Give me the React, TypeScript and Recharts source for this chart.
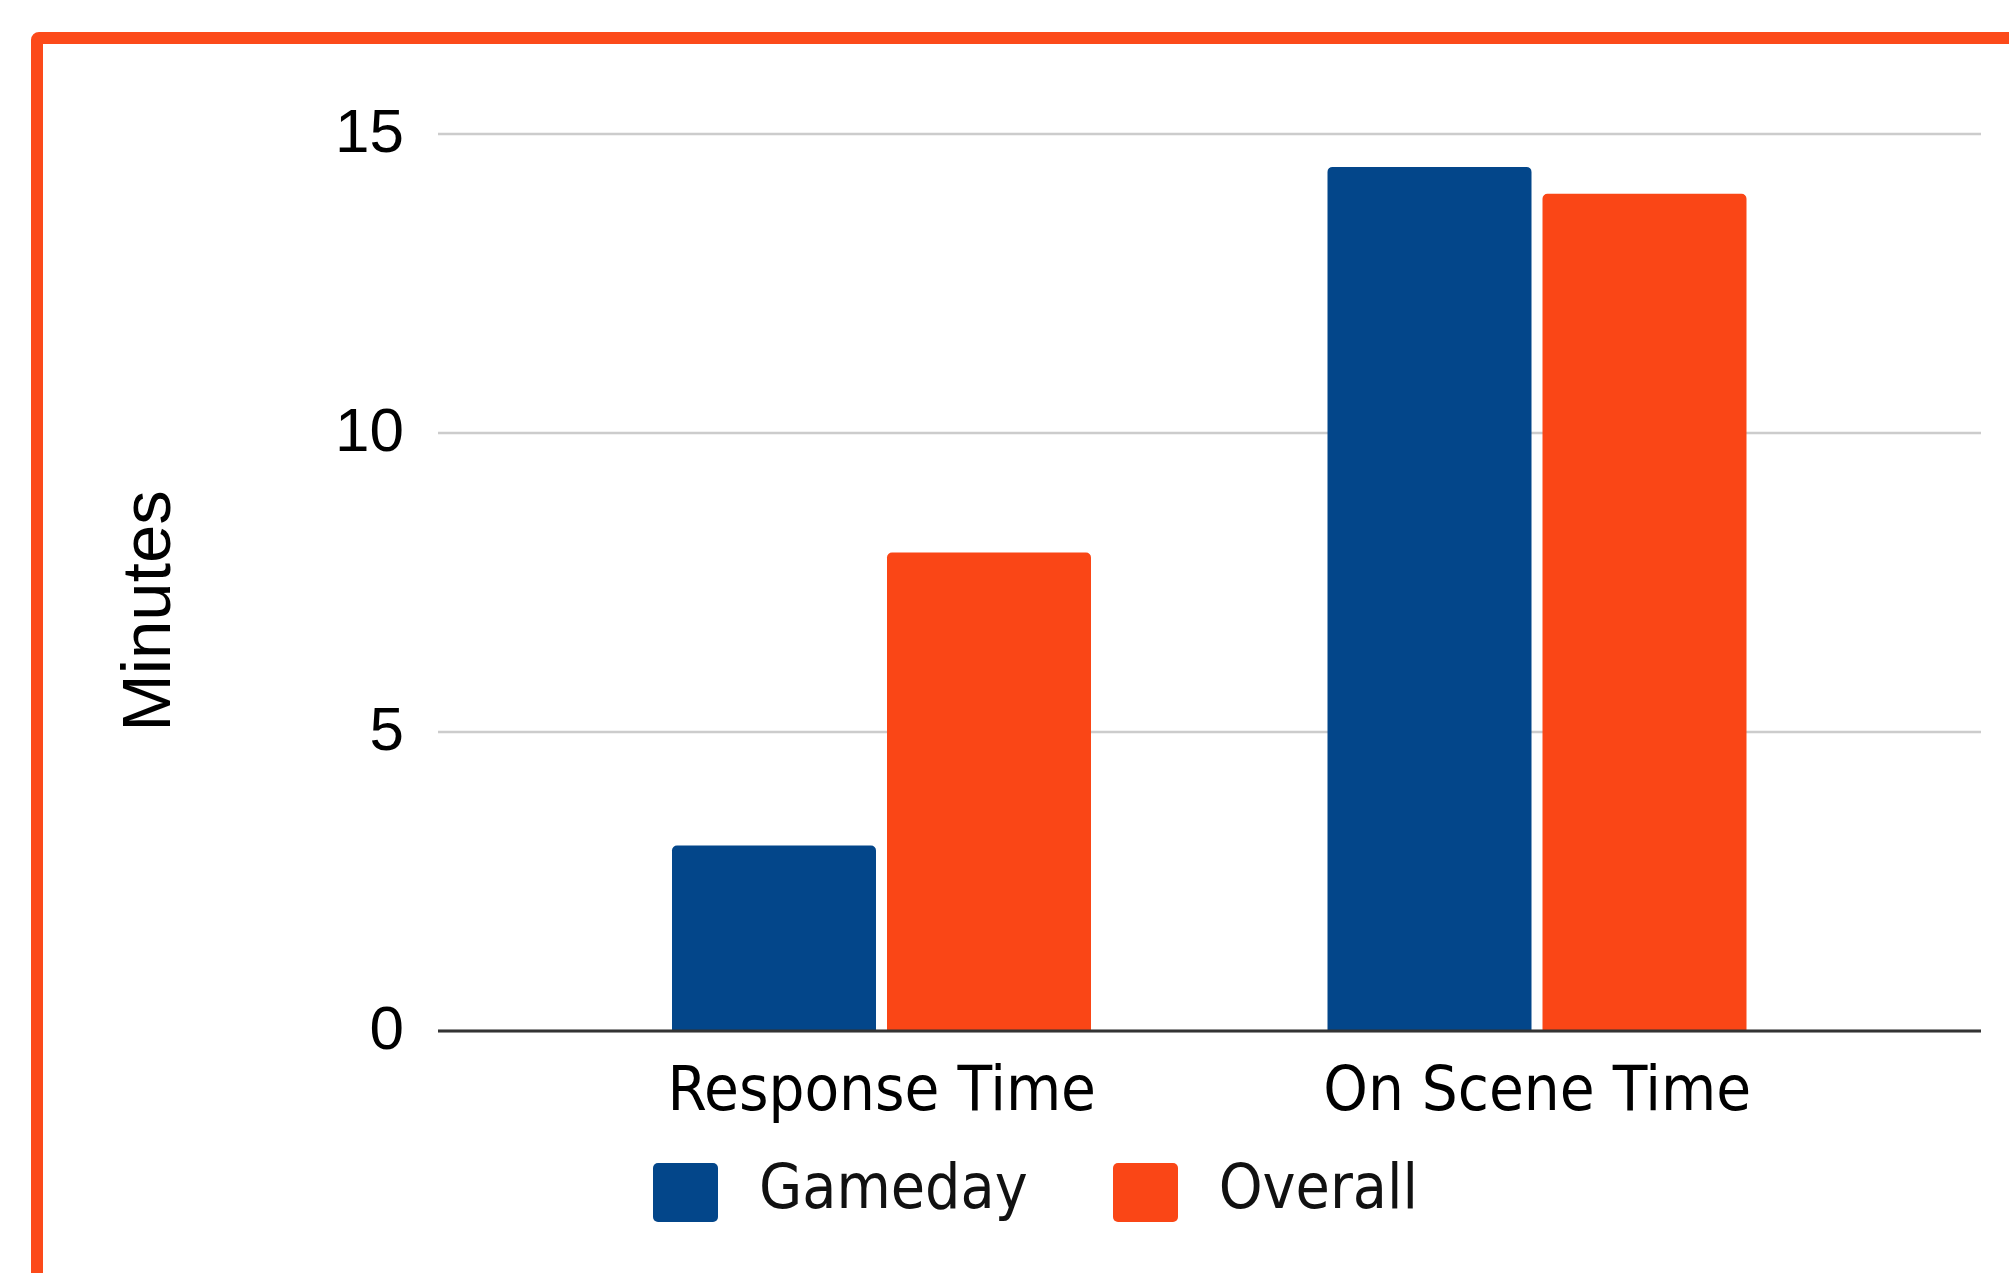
import { BarChart, Bar, XAxis, YAxis, CartesianGrid, Legend } from 'recharts';

const categories = ['Response Time', 'On Scene Time'];
const gamedayMinutes = [3.1, 14.45];
const overallMinutes = [8.0, 14.0];
const yTicks = [0, 5, 10, 15];

const seriesNames = { gameday: 'Gameday', overall: 'Overall' };

const data = categories.map((name, i) => ({
  name,
  gameday: gamedayMinutes[i],
  overall: overallMinutes[i],
}));

const colors = {
  blue: '#03468a',
  orange: '#fa4616',
  border: '#fc4a1a',
  grid: '#cccccc',
  axis: '#333333',
  text: '#000000',
};

const labelFont = "'DejaVu Sans Condensed', 'DejaVu Sans', sans-serif";
const tickFont = "'Liberation Sans', Arial, sans-serif";

const YTick = ({ x, y, payload }: any) => (
  <text
    x={x - 34}
    y={y + 18}
    textAnchor="end"
    fontFamily={tickFont}
    fontSize={62}
    fill={colors.text}
  >
    {payload.value}
  </text>
);

const XTick = ({ x, y, payload }: any) => (
  <text
    x={x}
    y={y + 79}
    textAnchor="middle"
    fontFamily={labelFont}
    fontStretch="condensed"
    fontSize={63}
    fill={colors.text}
  >
    {payload.value}
  </text>
);

const YLabel = ({ viewBox }: any) => {
  const cx = viewBox.x + 170;
  const cy = 611;
  return (
    <text
      x={cx}
      y={cy}
      transform={`rotate(-90, ${cx}, ${cy})`}
      textAnchor="middle"
      fontFamily={tickFont}
      fontSize={69}
      fill={colors.text}
    >
      Minutes
    </text>
  );
};

const CustomLegend = ({ payload }: any) => (
  <div style={{ display: 'flex', alignItems: 'flex-start', gap: 85 }}>
    {(payload || []).map((entry: any) => (
      <div key={entry.value} style={{ display: 'flex', alignItems: 'flex-start' }}>
        <div
          style={{
            width: 65,
            height: 59,
            marginTop: 6,
            borderRadius: 5,
            background: entry.color,
          }}
        />
        <span
          style={{
            marginLeft: 41,
            fontFamily: labelFont,
            fontStretch: 'condensed',
            fontSize: 62,
            lineHeight: '60px',
            color: '#111',
          }}
        >
          {entry.value}
        </span>
      </div>
    ))}
  </div>
);

export default function App() {
  return (
    <div
      style={{
        position: 'absolute',
        left: 0,
        top: 0,
        width: 2009,
        height: 1273,
        overflow: 'hidden',
        background: '#fff',
      }}
    >
      {/* frame cut off at the right and bottom */}
      <div
        style={{
          position: 'absolute',
          left: 31,
          top: 32,
          width: 2200,
          height: 1500,
          border: `12px solid ${colors.border}`,
          borderRadius: 8,
        }}
      />
      <div style={{ position: 'absolute', left: 0, top: 0 }}>
        <BarChart
          width={2009}
          height={1273}
          data={data}
          margin={{ top: 134, right: 28, left: 0, bottom: 142 }}
          barCategoryGap={118}
          barGap={11}
        >
          <CartesianGrid vertical={false} stroke={colors.grid} strokeWidth={2.5} />
          <XAxis
            dataKey="name"
            height={100}
            padding={{ left: 116, right: 116 }}
            tickLine={false}
            tickSize={0}
            tickMargin={0}
            axisLine={{ stroke: colors.axis, strokeWidth: 3 }}
            tick={<XTick />}
            interval={0}
          />
          <YAxis
            width={438}
            domain={[0, 15]}
            ticks={yTicks}
            tickLine={false}
            tickSize={0}
            tickMargin={0}
            axisLine={false}
            tick={<YTick />}
            label={<YLabel />}
          />
          <Legend
            layout="horizontal"
            verticalAlign="middle"
            align="center"
            content={<CustomLegend />}
            wrapperStyle={{ left: 653, top: 1157, width: 'auto', height: 'auto' }}
          />
          <Bar
            dataKey="gameday"
            name={seriesNames.gameday}
            fill={colors.blue}
            radius={[5, 5, 0, 0]}
            isAnimationActive={false}
          />
          <Bar
            dataKey="overall"
            name={seriesNames.overall}
            fill={colors.orange}
            radius={[5, 5, 0, 0]}
            isAnimationActive={false}
          />
        </BarChart>
      </div>
    </div>
  );
}
